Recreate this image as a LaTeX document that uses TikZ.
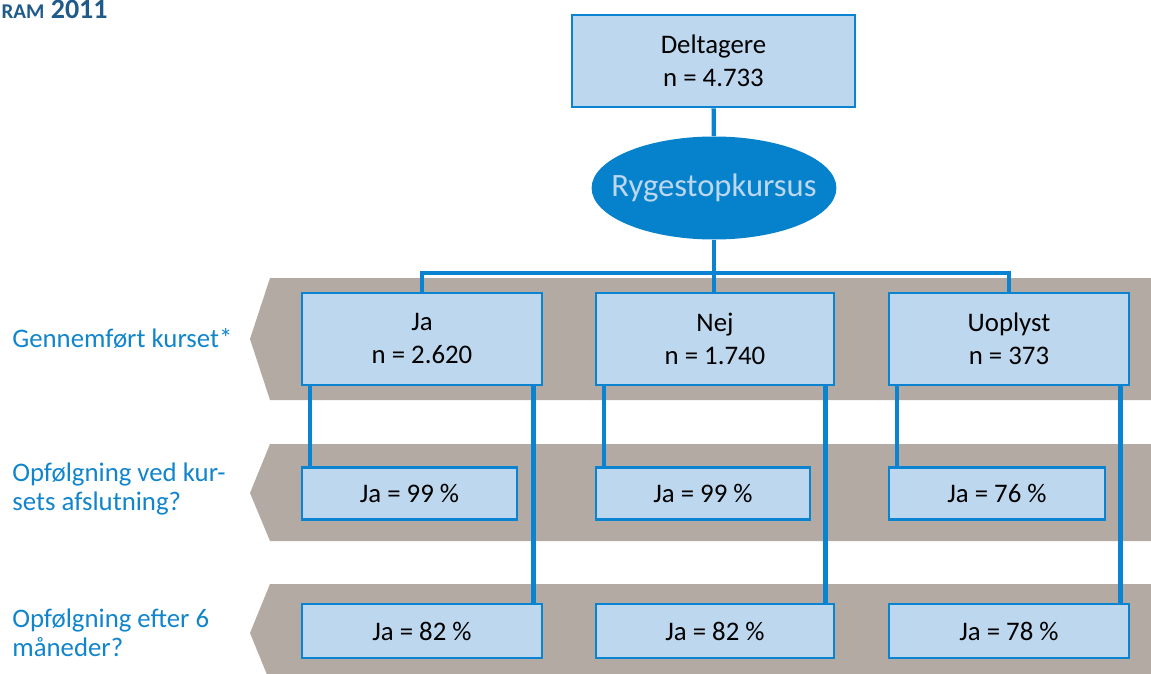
\documentclass[tikz,border=0pt]{standalone}
\usepackage{fontspec}
\setmainfont{Carlito}
\usepackage{tikz}
\usetikzlibrary{shapes.geometric, positioning, calc}

\definecolor{boxfill}{HTML}{BDD7EE}
\definecolor{boxline}{HTML}{0A84D0}
\definecolor{ovalfill}{HTML}{0582CB}
\definecolor{bandgray}{HTML}{B3AAA3}
\definecolor{lblblue}{HTML}{1085CC}
\definecolor{titleblue}{HTML}{1F5B8A}

\pgfdeclarelayer{bands}
\pgfdeclarelayer{lines}
\pgfsetlayers{bands,lines,main}

\tikzset{
  cellbox/.style={draw=boxline, fill=boxfill, line width=1.3pt, align=center,
    minimum width=120pt, minimum height=46pt, inner sep=0pt,
    font=\fontsize{13.4}{16.5}\selectfont},
  smallbox/.style={cellbox, minimum height=26pt},
  oval/.style={ellipse, fill=ovalfill, minimum width=122pt, minimum height=51.5pt,
    inner xsep=-8pt, inner ysep=0pt, text=boxfill, font=\fontsize{16.3}{19}\selectfont},
  stem/.style={draw=boxline, line width=2.2pt},
  band/.style={fill=bandgray},
  rowlabel/.style={anchor=base west, align=left, inner sep=0pt, text=lblblue,
    font=\fontsize{13.4}{14.5}\selectfont}
}

\begin{document}
\begin{tikzpicture}[x=0.5pt, y=-0.5pt]
\useasboundingbox (0,0) rectangle (1151,674);

% grey bands
\begin{pgfonlayer}{bands}
\fill[band] (270,278) -- (1160,278) -- (1160,400) -- (270,400) -- (250,339) -- cycle;
\fill[band] (270,444) -- (1160,444) -- (1160,541) -- (270,541) -- (250,493) -- cycle;
\fill[band] (270,584) -- (1160,584) -- (1160,682) -- (270,682) -- (250,633) -- cycle;
\end{pgfonlayer}

% title fragment
\node[anchor=base east, inner sep=0pt, text=titleblue, font=\fontsize{14}{16}\selectfont\bfseries]
  (title) at (108,19) {{\fontsize{10.5}{12}\selectfont RAM} 2011};

% row labels
\node[rowlabel] (lbl1) at (12,347) {Gennemført kurset*};
\node[rowlabel] (lbl2) at (12,510) {Opfølgning ved kur-\\sets afslutning?};
\node[rowlabel] (lbl3) at (12,656) {Opfølgning efter 6\\måneder?};

% top
\node[cellbox, minimum width=141.5pt] (dtg) at (713.5,61) {Deltagere\\n = 4.733};
\node[oval] (kursus) at (714,188) {Rygestopkursus};
\coordinate (split) at (714,273);

% row 1
\node[cellbox] (ja) at (422,339) {Ja\\n = 2.620};
\node[cellbox, minimum width=119pt] (nej) at (715,339) {Nej\\n = 1.740};
\node[cellbox] (uopl) at (1009,339) {Uoplyst\\n = 373};

% row 2
\node[smallbox, minimum width=107.5pt] (ja1) at (409.5,493.5) {Ja = 99 \%};
\node[smallbox, minimum width=107pt] (nej1) at (703,493.5) {Ja = 99 \%};
\node[smallbox, minimum width=108pt] (uopl1) at (997,493.5) {Ja = 76 \%};

% row 3
\node[smallbox, minimum height=27pt] (ja2) at (422,631) {Ja = 82 \%};
\node[smallbox, minimum height=27pt, minimum width=119pt] (nej2) at (715,631) {Ja = 82 \%};
\node[smallbox, minimum height=27pt] (uopl2) at (1009,631) {Ja = 78 \%};

% connectors
\begin{pgfonlayer}{lines}
\draw[stem] (dtg) -- (kursus);
\draw[stem] (kursus) -- (split);
\draw[stem] (ja.north) |- (split) -| (uopl.north);
\draw[stem] (split) -- (split |- nej.north);
\foreach \n in {ja, nej, uopl} {
  \draw[stem] ([xshift=4.5pt]\n.south west) -- ([xshift=4.5pt]\n1.north west);
  \draw[stem] ([xshift=-5pt]\n.south east) -- ([xshift=-5pt]\n2.north east);
}
\end{pgfonlayer}
\end{tikzpicture}
\end{document}
